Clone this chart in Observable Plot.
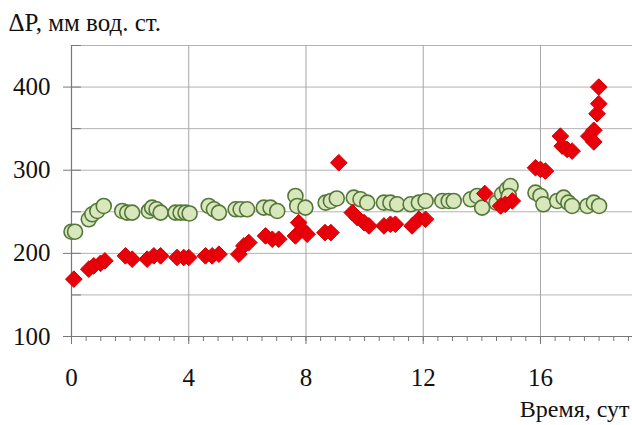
<!DOCTYPE html>
<html><head><meta charset="utf-8">
<script src="https://cdn.jsdelivr.net/npm/d3@7"></script>
<script src="https://cdn.jsdelivr.net/npm/@observablehq/plot@0.6"></script>
<style>
html,body{margin:0;padding:0;background:#fff;overflow:hidden}
svg{overflow:hidden;display:block}
svg text{font-family:"Times New Roman",Times,"Liberation Serif","DejaVu Serif","Noto Serif",Tinos,serif !important}
</style></head><body><div id="chart"></div>
<script>
// Series 1: green circles
const greenTime = [0.0,0.12,0.59,0.71,0.88,1.1,1.73,1.9,2.07,2.64,2.75,2.9,3.04,3.55,3.72,3.89,4.03,4.68,4.86,5.03,5.6,5.77,5.99,6.56,6.79,7.02,7.64,7.7,7.98,8.67,8.85,9.05,9.63,9.86,10.09,10.66,10.88,11.11,11.57,11.85,12.08,12.65,12.87,13.04,13.62,13.84,14.01,14.5,14.69,14.86,14.98,14.92,15.83,16.0,16.1,16.57,16.79,16.95,17.08,17.6,17.82,18.0];
const greenDP   = [226,226,241,247,251,257,251,249,249,251,255,253,249,249,249,249,248,257,253,249,253,253,253,255,255,251,269,257,255,261,263,266,267,265,261,261,261,259,259,261,263,263,263,263,265,269,255,261,271,277,281,269,273,269,259,263,267,261,257,257,261,257];
// Series 2: red diamonds
const redTime = [0.08,0.59,0.76,0.99,1.14,1.84,2.07,2.58,2.81,3.04,3.6,3.83,4.0,4.57,4.8,5.03,5.71,5.88,6.05,6.62,6.85,7.07,7.64,7.75,7.87,8.04,8.65,8.85,9.12,9.58,9.75,9.98,10.15,10.66,10.88,11.05,11.62,11.85,12.08,14.1,14.64,14.8,15.04,15.83,16.0,16.17,16.68,16.74,16.91,17.08,17.65,17.82,17.82,17.93,17.99,17.99];
const redDP   = [169,181,185,188,191,197,193,193,197,197,195,195,195,197,197,199,199,209,213,221,217,217,221,237,229,223,225,225,309,249,243,237,233,233,235,235,233,241,241,272,257,259,263,303,301,299,341,329,325,323,341,348,334,368,380,400];

const xMajorTicks = [0,4,8,12,16];
const yMajorTicks = [100,200,300,400];
const yGridValues = [100,150,200,250,300,350,400,450];
const xMinorTicks = d3.range(0, 19.01, 0.5);
const yTitle = "ΔP, мм вод. ст.";
const xTitle = "Время, сут";

const green = greenTime.map((t,i)=>({t, v: greenDP[i]}));
const red = redTime.map((t,i)=>({t, v: redDP[i]}));

const lineShape = {draw(context, l){ context.moveTo(0,0); context.lineTo(0,-l); }};
const serif = "'Times New Roman', Times, 'Liberation Serif', 'DejaVu Serif', serif";

const chart = Plot.plot({
  width: 632, height: 425,
  marginLeft: 71, marginRight: 0, marginTop: 45, marginBottom: 89,
  style: {fontFamily: serif, fontSize: "24px", color: "#111", background: "#fff"},
  x: {domain: [0, 19.14]},
  y: {domain: [100, 450]},
  marks: [
    Plot.gridY(yGridValues, {stroke: "#b3b3b3", strokeOpacity: 1, strokeWidth: 1}),
    Plot.gridX(xMajorTicks, {stroke: "#a6a6a6", strokeOpacity: 1, strokeWidth: 1}),
    Plot.axisX(xMinorTicks, {tickSize: 5, tickFormat: () => "", label: null, stroke: "#777"}),
    Plot.axisX(xMajorTicks, {tickSize: 8, tickPadding: 24, label: null, stroke: "#777", fill: "#111", fontSize: 25, fontFamily: serif}),
    Plot.axisY(yMajorTicks, {tickSize: 8, tickPadding: 13, label: null, stroke: "#777", fill: "#111", fontSize: 25, fontFamily: serif}),
    Plot.vector(yGridValues, {y: d => d, frameAnchor: "left", length: 9, rotate: 90, anchor: "start", shape: lineShape, stroke: "#777", strokeWidth: 1}),
    Plot.ruleX([0], {stroke: "#777", strokeWidth: 1.2}),
    Plot.ruleY([100], {stroke: "#777", strokeWidth: 1.2}),
    Plot.dot(green, {x: "t", y: "v", r: 7.5, symbol: "circle", fill: "#d8e8bc", stroke: "#56773a", strokeWidth: 1.6}),
    Plot.dot(red, {x: "t", y: "v", r: 7.5, symbol: "diamond2", fill: "#e8000a", stroke: "#d40000", strokeWidth: 1}),
    Plot.text([yTitle], {frameAnchor: "top-left", dx: -63, dy: -23, textAnchor: "start", lineAnchor: "middle", fontSize: 25, fill: "#111", fontFamily: serif}),
    Plot.text([xTitle], {frameAnchor: "bottom-right", dx: -3, dy: 73, textAnchor: "end", lineAnchor: "middle", fontSize: 24, fill: "#111", fontFamily: serif})
  ]
});
document.getElementById("chart").appendChild(chart);
</script></body></html>
